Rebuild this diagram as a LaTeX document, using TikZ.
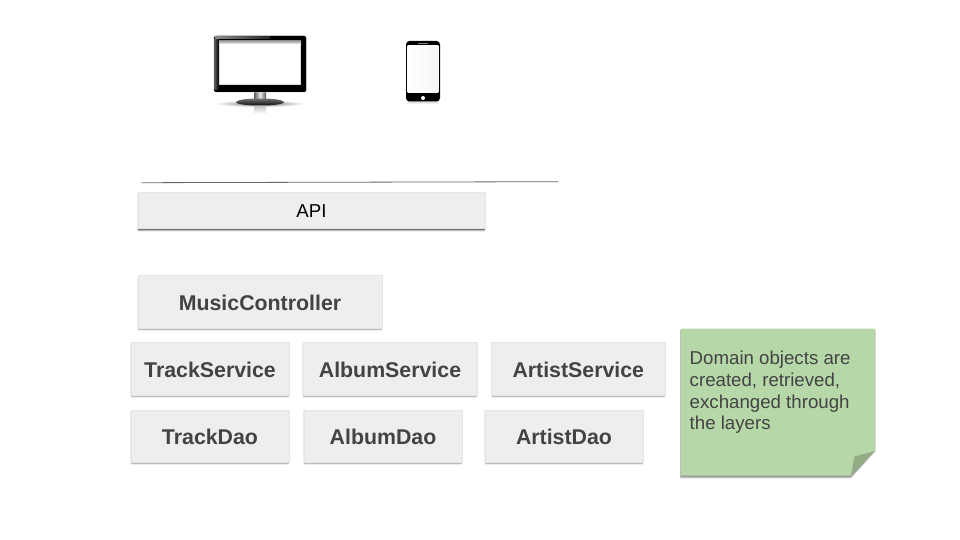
\documentclass[tikz,border=0pt]{standalone}
\usepackage{fontspec}
\setmainfont{Liberation Sans}
\usetikzlibrary{shadows,calc}
\definecolor{boxfill}{HTML}{EEEEEE}
\definecolor{boxtext}{HTML}{434343}
\definecolor{notefill}{HTML}{B6D7A8}
\definecolor{notefold}{HTML}{92AC86}
\newcommand{\lowered}[1]{\raisebox{-.9pt}[\height][\depth]{#1}}
\tikzset{
  softshadow/.style={
    general shadow={shadow xshift=0pt,shadow yshift=-3.2pt,fill=black,opacity=.07},
    general shadow={shadow xshift=1pt,shadow yshift=-1.2pt,fill=black,opacity=.08},
    general shadow={shadow xshift=-1pt,shadow yshift=-1.2pt,fill=black,opacity=.08},
    general shadow={shadow xshift=0pt,shadow yshift=-2.2pt,fill=black,opacity=.2},
    general shadow={shadow xshift=0pt,shadow yshift=-1.2pt,fill=black,opacity=.3}},
  layerbox/.style={draw=black!10,line width=.4pt,fill=boxfill,softshadow,inner sep=0pt,align=center,
    text=boxtext,font=\fontsize{21.33}{25}\selectfont\bfseries},
  apibox/.style={layerbox,text=black,font=\fontsize{18.67}{22}\selectfont}
}
\begin{document}
\begin{tikzpicture}[x=1pt,y=-1pt]
\useasboundingbox[fill=white] (0,0) rectangle (960,540);
% monitor
\shade[inner color=black!55,outer color=white] (260,103.5) ellipse (45pt and 3.5pt);
\shade[top color=black!25,bottom color=white] (254,105) rectangle (266,114);
\shade[left color=black!65,right color=black!65,middle color=black!8] (254,91) rectangle (266,99);
\shade[top color=black!55,bottom color=black] (236,102.5) .. controls (238,99) and (250,98.5) .. (260,98.5) .. controls (270,98.5) and (282,99) .. (284,102.5) .. controls (280,106.5) and (240,106.5) .. (236,102.5) -- cycle;
\fill[black!18,rounded corners=2pt] (213.5,35.5) rectangle (306.5,92.5);
\fill[black,rounded corners=1.5pt] (214,36) rectangle (306,92);
\shade[left color=black!65,right color=black,rounded corners=1pt] (214.3,38) rectangle (219,90);
\shade[left color=black!45,right color=black!85] (215,36.6) rectangle (270,39);
\fill[black!45] (218.6,40.6) rectangle (301.4,85.4);
\fill[black!15] (219,41) rectangle (301,85);
\shade[top color=black!35,bottom color=white] (219,41) rectangle (301,44.5);
\fill[white] (219.7,44.5) rectangle (300.3,84.5);
% phone
\shade[top color=black!18,bottom color=white] (408,101) rectangle (438,104);
\fill[black,rounded corners=3.5pt] (406,41) rectangle (440,101.5);
\shade[left color=white,right color=black!4] (407.6,45.5) rectangle (438.4,93);
\fill[black!50] (418,43) rectangle (428,44);
\fill[white] (423,98) circle (2pt);
% rule
\coordinate (ruleL) at (141.5,182.7);
\coordinate (ruleR) at (558,181.7);
\draw[black!60,line width=.8pt] (ruleL) -- (ruleR);
% boxes
\node[apibox,minimum width=346.5pt,minimum height=36.5pt] (api) at (311.5,210.3) {\lowered{API}};
\node[layerbox,minimum width=243.5pt,minimum height=52.5pt] (controller) at (260,301.7) {\lowered{MusicController}};
\node[layerbox,minimum width=158.5pt,minimum height=52.5pt] (tracksvc) at (210,368.7) {\lowered{TrackService}};
\node[layerbox,minimum width=173.5pt,minimum height=52.5pt] (albumsvc) at (390,368.7) {\lowered{AlbumService}};
\node[layerbox,minimum width=173.5pt,minimum height=52.5pt] (artistsvc) at (578.3,368.7) {\lowered{ArtistService}};
\node[layerbox,minimum width=158.5pt,minimum height=52.5pt] (trackdao) at (210,436) {\lowered{TrackDao}};
\node[layerbox,minimum width=158.5pt,minimum height=52.5pt] (albumdao) at (383,436) {\lowered{AlbumDao}};
\node[layerbox,minimum width=157.5pt,minimum height=52.5pt] (artistdao) at (564,436) {\lowered{ArtistDao}};
% sticky note
\fill[black,opacity=.07] (679.8,330) -- (875.8,330) -- (875.8,451) -- (851,479) -- (679.8,479) -- cycle;
\fill[black,opacity=.14] (680.2,330) -- (875.4,330) -- (875.4,451) -- (851,478) -- (680.2,478) -- cycle;
\fill[black,opacity=.25] (680.5,330) -- (875,330) -- (875,451) -- (851,477) -- (680.5,477) -- cycle;
\fill[notefill] (680.5,328.5) -- (875,328.5) -- (875,451) -- (851,475.5) -- (680.5,475.5) -- cycle;
\fill[notefold] (875,451) -- (854.5,456.5) -- (851,475.5) -- cycle;
\node[anchor=north west,inner sep=0pt,text=boxtext,align=left,font=\fontsize{18.67}{21.9}\selectfont] (note) at (689.5,350.5) {Domain objects are\\created, retrieved,\\exchanged through\\the layers};
\end{tikzpicture}
\end{document}
